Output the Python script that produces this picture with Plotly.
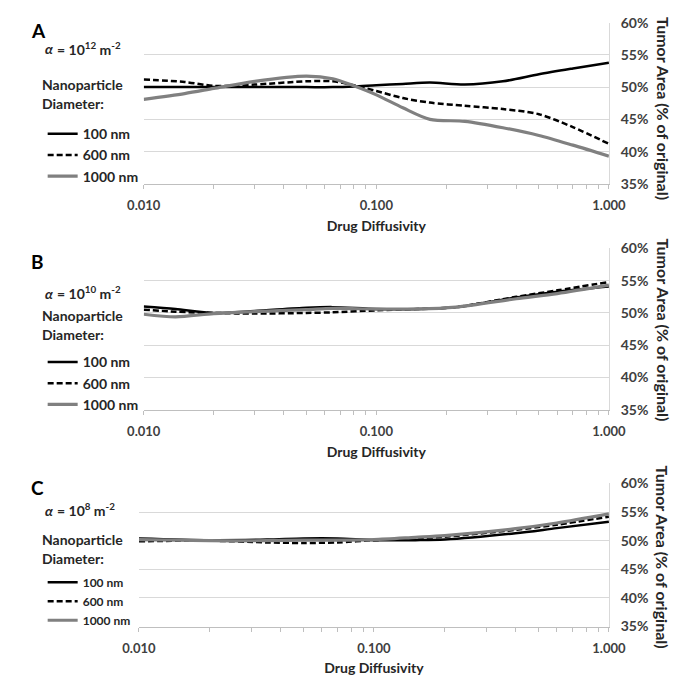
import plotly.graph_objects as go

# ---------------- data ----------------
diam_labels = ["100 nm", "600 nm", "1000 nm"]
x_tickvals = [0.01, 0.1, 1.0]
x_ticktext = ["0.010", "0.100", "1.000"]
y_tickvals = [35, 40, 45, 50, 55, 60]
y_ticktext = ["35%", "40%", "45%", "50%", "55%", "60%"]

# Panel A  (alpha = 1e12 m^-2)
D_A = [0.01, 0.015, 0.02, 0.03, 0.05, 0.065, 0.08, 0.1, 0.13, 0.17, 0.24, 0.35, 0.5, 0.7, 1.0]
A_100 = [50.0, 50.0, 50.0, 50.0, 50.0, 50.0, 50.1, 50.3, 50.5, 50.7, 50.4, 50.9, 52.0, 52.9, 53.8]
A_600 = [51.2, 50.8, 50.2, 50.4, 50.9, 50.9, 50.3, 49.4, 48.3, 47.6, 47.1, 46.6, 45.8, 43.8, 41.2]
A_1000 = [48.1, 49.0, 49.8, 50.9, 51.7, 51.3, 50.2, 48.8, 46.8, 45.0, 44.7, 43.7, 42.5, 41.0, 39.3]

# Panel B  (alpha = 1e10 m^-2)
D_B = [0.01, 0.0137, 0.02, 0.03, 0.05, 0.065, 0.1, 0.15, 0.22, 0.4, 0.6, 1.0]
B_100 = [51.0, 50.6, 50.0, 50.3, 50.8, 50.9, 50.6, 50.6, 50.9, 52.4, 53.3, 54.1]
B_600 = [50.5, 50.2, 50.0, 49.9, 50.0, 50.1, 50.4, 50.6, 50.9, 52.5, 53.5, 54.8]
B_1000 = [49.8, 49.4, 49.9, 50.2, 50.5, 50.7, 50.6, 50.6, 50.9, 52.2, 53.0, 54.3]

# Panel C  (alpha = 1e8 m^-2)
D_C = [0.01, 0.02, 0.035, 0.05, 0.07, 0.1, 0.15, 0.2, 0.4, 0.6, 1.0]
C_100 = [50.4, 50.1, 50.2, 50.4, 50.4, 50.1, 50.1, 50.2, 51.3, 52.2, 53.3]
C_600 = [49.9, 50.0, 49.7, 49.6, 49.7, 50.1, 50.4, 50.7, 51.9, 52.8, 54.2]
C_1000 = [50.2, 50.0, 50.0, 50.1, 50.1, 50.2, 50.6, 50.9, 52.1, 53.1, 54.7]

# ---------------- layout helpers ----------------
W, H = 688, 683
FONT = "Lato"
TXT = "#262626"
AX = "#404040"


def fx(p):
    return p / W


def fy(p):
    return 1 - p / H


panels = [
    dict(letter="A", exp="12", D=D_A, ys=[A_100, A_600, A_1000],
         x0=133.3, x1=622.7, y0=14.0, y1=179.3, fsl=14,
         letter_y=22, alpha_y=41, np_y=87, leg_y=112, yt_y=102),
    dict(letter="B", exp="10", D=D_B, ys=[B_100, B_600, B_1000],
         x0=133.3, x1=622.7, y0=245.5, y1=411.0, fsl=14,
         letter_y=259, alpha_y=292, np_y=324, leg_y=346, yt_y=329),
    dict(letter="C", exp="8", D=D_C, ys=[C_100, C_600, C_1000],
         x0=128.3, x1=622.7, y0=486.6, y1=633.3, fsl=12,
         letter_y=491, alpha_y=514, np_y=554, leg_y=573, yt_y=562),
]

styles = [
    dict(color="#000000", width=2.5, dash="solid"),
    dict(color="#000000", width=2.5, dash="6px,3px"),
    dict(color="#808080", width=3.2, dash="solid"),
]

fig = go.Figure()
layout = dict(
    width=W, height=H,
    margin=dict(l=0, r=0, t=0, b=0),
    paper_bgcolor="white", plot_bgcolor="white",
    font=dict(family=FONT, color=TXT, size=13),
    annotations=[],
)

minor_vals = [m * 10 ** e for e in (-2, -1) for m in range(2, 10)]


def note(text, x, y, size=14, xanchor="left", **kw):
    font = dict(family=FONT, size=size, color=kw.pop("color", TXT), weight="bold")
    if kw.pop("italic", False):
        font["style"] = "italic"
    return dict(text=text, x=fx(x), y=fy(y), xref="paper", yref="paper",
                xanchor=xanchor, yanchor="middle", showarrow=False, font=font, **kw)


for i, p in enumerate(panels):
    n = "" if i == 0 else str(i + 1)
    xa, ya = "x" + n, "y" + n
    leg = "legend" + n
    for k in range(3):
        fig.add_trace(go.Scatter(
            x=p["D"], y=p["ys"][k], mode="lines", name=diam_labels[k],
            line=dict(shape="spline", smoothing=0.8, **styles[k]),
            xaxis=xa, yaxis=ya, legend=leg,
            hoverinfo="x+y+name",
        ))
    layout["xaxis" + n] = dict(
        type="log", range=[-2, 0], domain=[fx(p["x0"]), fx(p["x1"])], anchor=ya,
        showgrid=False, zeroline=False, showline=True, linecolor="#bfbfbf", linewidth=1,
        ticks="outside", ticklen=4, tickcolor="#bfbfbf",
        tickmode="array", tickvals=x_tickvals, ticktext=x_ticktext,
        minor=dict(ticks="outside", ticklen=4, tickcolor="#bfbfbf", tickvals=minor_vals, showgrid=False),
        tickfont=dict(family=FONT, size=13, color=AX, weight="bold"),
        ticklabelstandoff=6,
        title=dict(text="Drug Diffusivity", standoff=8,
                   font=dict(family=FONT, size=14, color=TXT, weight="bold")),
    )
    layout["yaxis" + n] = dict(
        range=[35, 60], domain=[fy(p["y1"]), fy(p["y0"])], anchor=xa, side="right",
        tickmode="array", tickvals=y_tickvals, ticktext=y_ticktext,
        showgrid=True, gridcolor="#d9d9d9", gridwidth=1, zeroline=False,
        showline=True, linecolor="#d9d9d9", ticks="",
        tickfont=dict(family=FONT, size=14, color=AX, weight="bold"),
        ticklabelstandoff=8,
    )
    layout[leg] = dict(
        x=fx(27), y=fy(p["leg_y"]), xanchor="left", yanchor="top",
        bgcolor="rgba(0,0,0,0)", borderwidth=0, itemwidth=30,
        font=dict(family=FONT, size=p["fsl"], color=TXT, weight="bold"),
        itemclick=False, itemdoubleclick=False,
    )
    ann = layout["annotations"]
    ann.append(note(p["letter"], 13, p["letter_y"], size=19, color="#000000"))
    ann.append(note("α", 27, p["alpha_y"], size=14, italic=True))
    ann.append(note(f"= 10<sup>{p['exp']}</sup> m<sup>-2</sup>", 40, p["alpha_y"] - 1, size=14))
    ann.append(note("Nanoparticle", 24, p["np_y"] - 9.5, size=14))
    ann.append(note("Diameter:", 24, p["np_y"] + 9.5, size=14))
    ann.append(note("Tumor Area (% of original)", 680, p["yt_y"], size=16, xanchor="center",
                    textangle=90))

fig.update_layout(**layout)
fig.write_html("out.html", post_script="document.body.style.margin='0';",
               config={"displayModeBar": False})
